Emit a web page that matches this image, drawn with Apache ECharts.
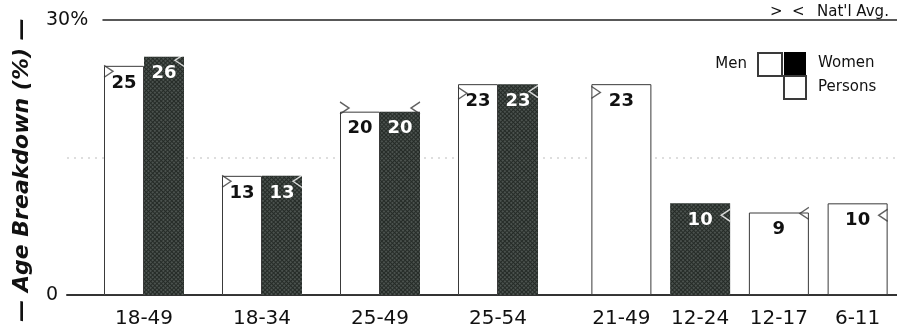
<!DOCTYPE html>
<html>
<head>
<meta charset="utf-8">
<script src="https://cdn.jsdelivr.net/npm/echarts@6/dist/echarts.min.js"></script>
<style>
  html, body { margin: 0; padding: 0; background: #fff; }
  #chart { width: 897px; height: 334px; }
</style>
</head>
<body>
<div id="chart"></div>
<script>
// paired groups (men / women)
var pairedCats = ['18-49', '18-34', '25-49', '25-54'];
var menValues = [25, 13, 20, 23];
var womenValues = [26, 13, 20, 23];
var menAvg = [24.4, 12.4, 20.4, 22.0];
var womenAvg = [25.6, 12.4, 20.4, 22.2];

// single groups
var singleCats = ['21-49', '12-24', '12-17', '6-11'];
var personsValues = [23, null, 9, 10];
var womenSingleValues = [null, 10, null, null];
var avgLeftSingle = [22.1, null, null, null];
var avgRightSingle = [null, 8.7, 8.9, 8.7];

// y ticks
var yTicks = [0, 15, 30];
var yTickLabels = ['0', '', '30%'];

var FONT = 'DejaVu Sans';
var DARK = '#252b27';
var LINE = '#3a3a3a';

var womenStyle = {
    color: DARK,
    decal: {
        symbol: 'circle',
        symbolSize: 0.9,
        color: 'rgba(150,160,155,0.5)',
        dashArrayX: [2, 1],
        dashArrayY: [2, 1],
        rotation: Math.PI / 4
    }
};
var whiteStyle = { color: '#fff', borderColor: LINE, borderWidth: 1 };

function barLabel(col) {
    return {
        show: true, position: 'insideTop', distance: 8,
        color: col, fontFamily: FONT, fontWeight: 'bold', fontSize: 18
    };
}

// marker color: white when it sits inside a dark bar
function markerData(avg, dark) {
    return avg.map(function(v, i) {
        if (v == null) return null;
        var inside = dark && dark[i] != null && dark[i] >= v;
        return { value: v, itemStyle: { borderColor: inside ? '#fff' : LINE } };
    });
}

var GT = 'path://M0,0 L9,6 L0,12';
var LT = 'path://M9,0 L0,6 L9,12';

function marker(xi, data, sym, off) {
    return {
        type: 'scatter', xAxisIndex: xi, yAxisIndex: xi, silent: true, z: 5,
        symbol: sym, symbolSize: [9, 12], symbolOffset: [off, 0],
        itemStyle: { color: 'transparent', borderWidth: 1.3 },
        data: data
    };
}

var chart = echarts.init(document.getElementById('chart'));

var hiddenY = { type: 'value', min: 0, max: 30, show: false };

chart.setOption({
    backgroundColor: '#fff',
    animation: false,
    grid: [
        { left: 67, right: 0, top: 20, bottom: 39 },
        { left: 103, right: 0, top: 20, bottom: 39 },
        { left: 85, width: 472, top: 20, bottom: 39 },
        { left: 582, width: 320, top: 20, bottom: 39 }
    ],
    xAxis: [
        { gridIndex: 0, type: 'value', min: 0, max: 1, axisLabel: { show: false }, axisTick: { show: false },
          splitLine: { show: false }, axisLine: { show: true, lineStyle: { color: '#333', width: 2 } } },
        { gridIndex: 1, type: 'value', min: 0, max: 1, position: 'top', axisLabel: { show: false }, axisTick: { show: false },
          splitLine: { show: false }, axisLine: { show: true, onZero: false, lineStyle: { color: '#222', width: 1.5 } } },
        { gridIndex: 2, type: 'category', data: pairedCats, axisLine: { show: false }, axisTick: { show: false },
          axisLabel: { margin: 14, color: '#111', fontFamily: FONT, fontSize: 20 } },
        { gridIndex: 3, type: 'category', data: singleCats, axisLine: { show: false }, axisTick: { show: false },
          axisLabel: { margin: 14, color: '#111', fontFamily: FONT, fontSize: 20 } }
    ],
    yAxis: [
        { gridIndex: 0, type: 'value', min: 0, max: 30, interval: 15,
          axisLine: { show: false }, axisTick: { show: false },
          axisLabel: { align: 'left', margin: 21, color: '#111', fontFamily: FONT, fontSize: 19,
              formatter: function(v) { return yTickLabels[yTicks.indexOf(v)] || ''; } },
          splitLine: { show: true, lineStyle: { color: ['transparent', '#d4d4d4', 'transparent'], type: [2, 5], width: 1.5 } } },
        Object.assign({ gridIndex: 1 }, hiddenY),
        Object.assign({ gridIndex: 2 }, hiddenY),
        Object.assign({ gridIndex: 3 }, hiddenY)
    ],
    legend: [
        { data: ['Men'], right: 114, top: 52, padding: 0, align: 'right', icon: 'rect',
          itemWidth: 24, itemHeight: 23, selectedMode: false,
          textStyle: { fontFamily: FONT, fontSize: 15, color: '#111', padding: [0, 6, 0, 0] } },
        { data: [{ name: 'Women', itemStyle: { color: '#000', decal: 'none' } }, 'Persons'],
          left: 783, top: 52, padding: 0, orient: 'vertical', icon: 'rect',
          itemWidth: 22, itemHeight: 23, itemGap: 0, selectedMode: false,
          textStyle: { fontFamily: FONT, fontSize: 15, color: '#111', padding: [0, 0, 0, 7] } }
    ],
    graphic: [
        { type: 'text', x: 22, y: 170, rotation: Math.PI / 2,
          style: { text: '— Age Breakdown (%) —', fontFamily: FONT, fontWeight: 'bold', fontStyle: 'italic',
                   fontSize: 22, fill: '#111', align: 'center', verticalAlign: 'middle' } },
        { type: 'text', x: 770, y: 5,
          style: { text: '>  <', fontFamily: FONT, fontSize: 15, fill: '#111' } },
        { type: 'text', x: 817, y: 5,
          style: { text: "Nat'l Avg.", fontFamily: FONT, fontSize: 15, fill: '#111' } }
    ],
    series: [
        { name: 'Men', type: 'bar', xAxisIndex: 2, yAxisIndex: 2, barWidth: 40, barGap: 0,
          itemStyle: whiteStyle, label: barLabel('#111'), data: menValues },
        { name: 'Women', type: 'bar', xAxisIndex: 2, yAxisIndex: 2, barWidth: 40, barGap: 0,
          itemStyle: womenStyle, label: barLabel('#fff'), data: womenValues },
        { name: 'Persons', type: 'bar', xAxisIndex: 3, yAxisIndex: 3, barWidth: 60, barGap: '-100%',
          itemStyle: whiteStyle, label: barLabel('#111'), data: personsValues },
        { name: 'Women', type: 'bar', xAxisIndex: 3, yAxisIndex: 3, barWidth: 60, barGap: '-100%',
          itemStyle: womenStyle, label: barLabel('#fff'), data: womenSingleValues },
        marker(2, markerData(menAvg, null), GT, -35.5),
        marker(2, markerData(womenAvg, womenValues), LT, 35.5),
        marker(3, markerData(avgLeftSingle, null), GT, -25.5),
        marker(3, markerData(avgRightSingle, womenSingleValues), LT, 25.5)
    ]
});
</script>
</body>
</html>
